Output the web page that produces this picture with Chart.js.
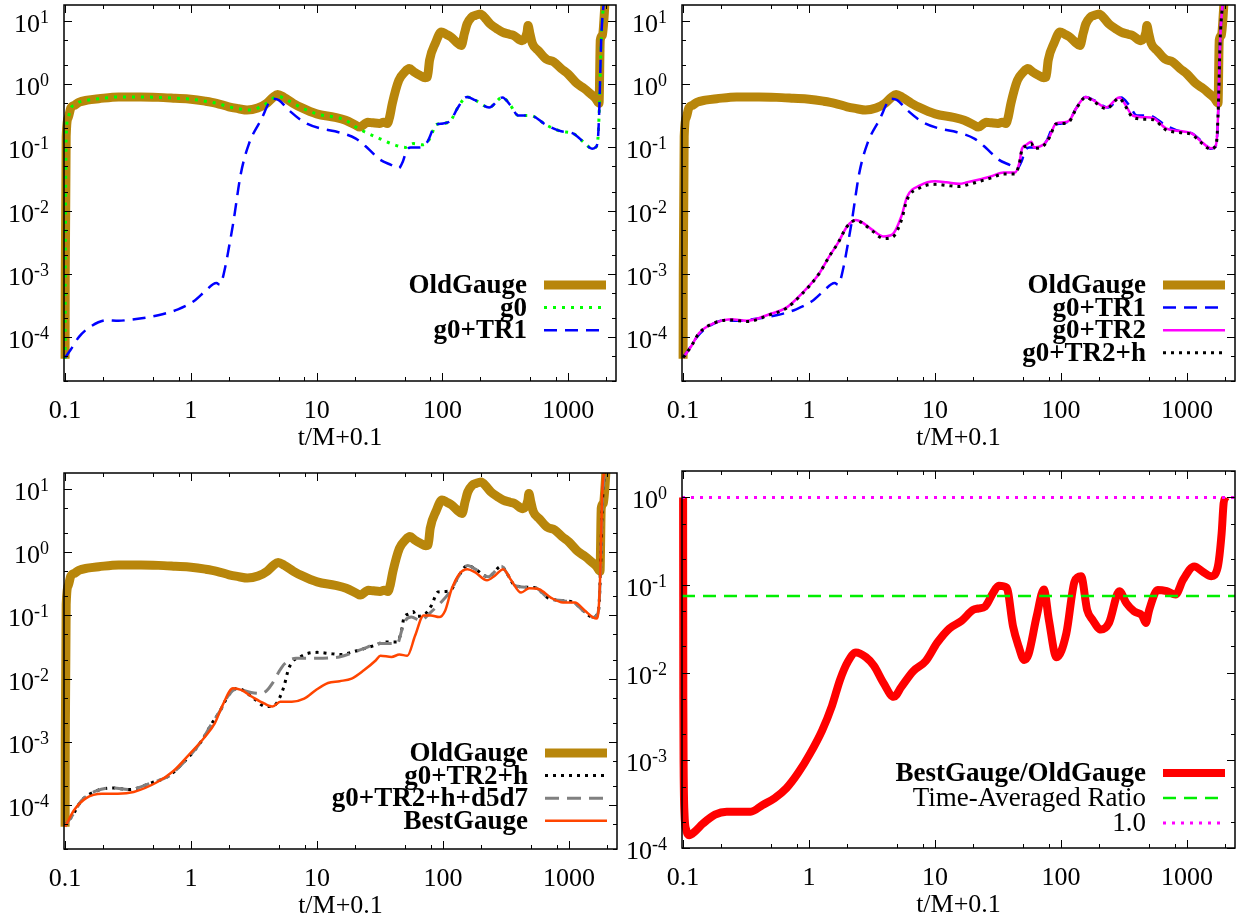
<!DOCTYPE html>
<html>
<head>
<meta charset="utf-8">
<script src="https://cdn.jsdelivr.net/npm/chart.js@4.4.0/dist/chart.umd.min.js"></script>
<style>
  html, body { margin: 0; padding: 0; background: #fff; }
  #wrap { position: relative; width: 1242px; height: 920px; }
  .panel { position: absolute; width: 621px; height: 460px; }
</style>
</head>
<body>
<div id="wrap">
  <div class="panel" style="left:0;top:0"><canvas id="c1" width="621" height="460"></canvas></div>
  <div class="panel" style="left:621px;top:0"><canvas id="c2" width="621" height="460"></canvas></div>
  <div class="panel" style="left:0;top:460px"><canvas id="c3" width="621" height="460"></canvas></div>
  <div class="panel" style="left:621px;top:460px"><canvas id="c4" width="621" height="460"></canvas></div>
</div>
<script>
// axis setup
const xRange = [0.098, 2400];
const yRangeMain = [2e-5, 18];
const yRangeRatio = [1e-4, 2];
const xTickValues = [0.1, 1, 10, 100, 1000];
const xTickLabels = ['0.1', '1', '10', '100', '1000'];
const yExpsMain = [1, 0, -1, -2, -3, -4];
const yExpsRatio = [0, -1, -2, -3, -4];
const xMinorDigits = [2, 5, 8];
const yMinorDigits = [2, 5];
const xTitle = 't/M+0.1';

// series, [t/M+0.1, value]
const oldGauge = [[0.1,4.5e-5],[0.1003,1e-3],[0.102,0.15],[0.106,0.3],[0.111,0.42],[0.12,0.47],[0.129,0.52],[0.15,0.56],[0.185,0.59],[0.266,0.63],[0.4,0.63],[0.55,0.62],[0.75,0.6],[1.0,0.58],[1.3,0.54],[1.6,0.5],[2.0,0.44],[2.4,0.41],[2.8,0.39],[3.4,0.42],[4.0,0.5],[4.5,0.62],[4.9,0.69],[5.5,0.62],[6.5,0.5],[7.5,0.43],[10,0.34],[14,0.3],[17,0.27],[20.5,0.225],[22,0.21],[25.5,0.25],[28,0.245],[31.6,0.24],[34,0.25],[36.5,0.24],[38,0.3],[40,0.5],[45,1.15],[50,1.55],[54.5,1.77],[60,1.55],[66,1.39],[73,1.27],[76,1.3],[79,2.4],[88,4.5],[98,6.7],[107,6.2],[117,5.6],[130,4.6],[141,4.1],[150,6.5],[157,9.0],[170,11.5],[182,12.3],[200,13],[220,11],[240,9],[270,7.6],[300,6.7],[340,6.2],[370,5.9],[430,4.9],[470,6.5],[480,8.5],[495,6.5],[520,4.4],[580,3.4],[670,2.5],[770,2.25],[880,1.77],[1000,1.45],[1180,1.02],[1350,0.85],[1500,0.71],[1650,0.6],[1760,0.5],[1800,5],[1870,6],[1990,30]];

const g0 = [[0.1,4.5e-5],[0.1003,1e-3],[0.102,0.15],[0.106,0.3],[0.111,0.42],[0.12,0.47],[0.129,0.52],[0.15,0.56],[0.185,0.59],[0.266,0.63],[0.4,0.63],[0.55,0.62],[0.75,0.6],[1.0,0.58],[1.3,0.54],[1.6,0.5],[2.0,0.44],[2.4,0.41],[2.8,0.39],[3.4,0.42],[4.0,0.5],[4.5,0.6],[4.9,0.65],[5.5,0.6],[6.5,0.5],[7.5,0.43],[10,0.34],[14,0.3],[17,0.27],[20.5,0.21],[24,0.177],[31.6,0.138],[42,0.109],[51,0.1],[58.5,0.115],[70,0.11],[81,0.148],[88,0.226],[101,0.24],[117,0.27],[131,0.41],[157,0.63],[182,0.56],[235,0.43],[300,0.62],[346,0.47],[400,0.32],[500,0.32],[670,0.226],[880,0.18],[1090,0.167],[1360,0.116],[1550,0.095],[1650,0.1],[1720,0.13],[1770,0.44],[1830,5],[1900,16],[1990,30]];

const g0TR1 = [[0.1,4.7e-5],[0.111,6.3e-5],[0.129,1.0e-4],[0.16,1.46e-4],[0.214,1.83e-4],[0.266,1.8e-4],[0.33,1.87e-4],[0.55,2.2e-4],[0.79,2.73e-4],[1.06,3.7e-4],[1.3,5.3e-4],[1.5,6.8e-4],[1.6,7.1e-4],[1.7,6.7e-4],[1.88,1.3e-3],[2.0,2.5e-3],[2.17,6.3e-3],[2.5,3.9e-2],[2.9,0.115],[3.6,0.27],[4.5,0.59],[5.0,0.56],[6.0,0.39],[8.0,0.25],[10.7,0.2],[14,0.18],[20.5,0.138],[25.5,0.097],[31.6,0.065],[39,0.053],[45,0.047],[48.5,0.06],[52,0.09],[56,0.1],[66,0.1],[76,0.123],[88,0.226],[101,0.24],[117,0.27],[131,0.41],[157,0.63],[182,0.56],[235,0.43],[300,0.62],[346,0.47],[400,0.32],[500,0.32],[670,0.226],[880,0.18],[1090,0.167],[1360,0.116],[1550,0.095],[1650,0.1],[1720,0.13],[1770,0.44],[1830,5],[1900,16],[1990,30]];

const g0TR2 = [[0.1,4.7e-5],[0.116,7.1e-5],[0.134,1.15e-4],[0.178,1.67e-4],[0.24,1.9e-4],[0.32,1.8e-4],[0.49,2.3e-4],[0.66,2.9e-4],[0.88,4.9e-4],[1.2,1.0e-3],[1.45,1.9e-3],[1.7,3.1e-3],[2.0,5.6e-3],[2.35,7.1e-3],[2.6,6.6e-3],[3.2,4.9e-3],[3.9,3.9e-3],[4.6,4.2e-3],[5.4,8.1e-3],[6.0,1.66e-2],[7.6,2.5e-2],[10,2.9e-2],[12.3,2.8e-2],[15.6,2.65e-2],[18,2.8e-2],[22.5,3.1e-2],[28,3.5e-2],[35,4.0e-2],[43,4.0e-2],[46.5,5.6e-2],[49,0.096],[53,0.11],[58,0.123],[61,0.1],[72,0.11],[81,0.148],[91,0.24],[105,0.25],[117,0.27],[131,0.41],[157,0.63],[180,0.56],[228,0.43],[290,0.62],[320,0.49],[370,0.32],[460,0.3],[540,0.29],[680,0.2],[910,0.18],[1090,0.167],[1300,0.123],[1550,0.097],[1650,0.1],[1720,0.13],[1770,0.44],[1830,5],[1900,16],[1990,30]];

const g0TR2h = [[0.1,4.7e-5],[0.116,7.1e-5],[0.134,1.15e-4],[0.178,1.67e-4],[0.24,1.85e-4],[0.32,1.75e-4],[0.49,2.25e-4],[0.66,2.85e-4],[0.88,4.8e-4],[1.2,1.0e-3],[1.45,1.9e-3],[1.7,3.1e-3],[2.0,5.6e-3],[2.35,7.0e-3],[2.6,6.5e-3],[3.2,4.7e-3],[3.9,3.6e-3],[4.6,3.8e-3],[5.4,7.0e-3],[6.0,1.5e-2],[7.6,2.3e-2],[10,2.6e-2],[12.3,2.5e-2],[15.6,2.4e-2],[18,2.55e-2],[22.5,2.9e-2],[28,3.3e-2],[35,3.8e-2],[43,3.8e-2],[46.5,5.4e-2],[49,0.093],[53,0.105],[58,0.115],[61,0.097],[72,0.105],[81,0.145],[91,0.235],[105,0.24],[117,0.26],[131,0.4],[157,0.62],[180,0.54],[228,0.41],[290,0.6],[320,0.47],[370,0.3],[460,0.28],[540,0.275],[680,0.19],[910,0.17],[1090,0.16],[1300,0.118],[1550,0.093],[1650,0.1],[1720,0.13],[1770,0.44],[1830,5],[1900,16],[1990,30]];

const g0TR2hd5d7 = [[0.1,4.7e-5],[0.116,7.1e-5],[0.134,1.15e-4],[0.178,1.67e-4],[0.24,1.85e-4],[0.32,1.75e-4],[0.49,2.25e-4],[0.66,2.85e-4],[0.88,4.8e-4],[1.2,1.0e-3],[1.45,1.9e-3],[1.7,3.1e-3],[2.0,5.6e-3],[2.35,7.0e-3],[2.6,6.5e-3],[3.0,6.0e-3],[3.6,5.8e-3],[4.0,6.5e-3],[4.4,8.3e-3],[5.0,1.3e-2],[5.5,1.7e-2],[6.8,2.1e-2],[9.8,2.1e-2],[15,2.2e-2],[22.5,2.9e-2],[31.6,3.6e-2],[43.5,3.6e-2],[46,5.0e-2],[48.6,7.4e-2],[56,9.4e-2],[66,0.083],[80,0.113],[96,0.16],[117,0.26],[131,0.4],[157,0.62],[180,0.54],[228,0.41],[290,0.6],[320,0.47],[370,0.3],[460,0.28],[540,0.275],[680,0.19],[910,0.17],[1090,0.16],[1300,0.118],[1550,0.093],[1650,0.1],[1720,0.13],[1770,0.44],[1830,5],[1900,16],[1990,30]];

const bestGauge = [[0.1,4.5e-5],[0.118,8.3e-5],[0.147,1.28e-4],[0.196,1.5e-4],[0.262,1.5e-4],[0.35,1.6e-4],[0.54,2.3e-4],[0.72,3.4e-4],[0.96,6.2e-4],[1.29,1.2e-3],[1.54,1.95e-3],[1.78,3.8e-3],[2.15,7.0e-3],[2.49,6.6e-3],[3.07,5.1e-3],[3.83,4.0e-3],[4.43,3.6e-3],[5.1,4.3e-3],[6.3,4.3e-3],[7.9,4.8e-3],[9.8,6.6e-3],[12.2,8.5e-3],[15.1,9.1e-3],[18.8,1.0e-2],[23.5,1.35e-2],[29.3,1.95e-2],[31.8,2.3e-2],[39,2.2e-2],[45,2.4e-2],[52,2.3e-2],[60,4.8e-2],[70,0.1],[80,0.1],[93,0.094],[104,0.12],[116,0.25],[134,0.45],[156,0.54],[180,0.48],[223,0.36],[259,0.43],[300,0.54],[347,0.36],[416,0.23],[482,0.27],[578,0.26],[720,0.19],[895,0.16],[1110,0.16],[1330,0.12],[1550,0.093],[1650,0.089],[1720,0.135],[1770,0.51],[1830,8.3],[1900,20]];

const ratio = [[0.1,1.0],[0.1004,5e-3],[0.101,8e-4],[0.1025,2.5e-4],[0.106,1.6e-4],[0.1115,1.4e-4],[0.1244,1.55e-4],[0.1438,1.9e-4],[0.179,2.4e-4],[0.222,2.6e-4],[0.276,2.6e-4],[0.344,2.6e-4],[0.428,3.1e-4],[0.532,3.7e-4],[0.66,4.8e-4],[0.82,7.2e-4],[1.02,1.2e-3],[1.27,2.2e-3],[1.52,4.2e-3],[1.76,8.3e-3],[2.04,1.35e-2],[2.35,1.7e-2],[2.83,1.5e-2],[3.27,1.2e-2],[3.9,7.6e-3],[4.7,5.3e-3],[5.4,6.9e-3],[6.7,1.04e-2],[8.4,1.35e-2],[10.4,2.2e-2],[13,3.2e-2],[16.2,3.9e-2],[20,5.2e-2],[22,5.4e-2],[25,5.7e-2],[28.8,8.1e-2],[32,9.8e-2],[37,9.3e-2],[41.5,3.4e-2],[46,2.0e-2],[51,1.4e-2],[55,1.6e-2],[64,4.4e-2],[73,8.9e-2],[80,4.0e-2],[92,1.5e-2],[110,2.8e-2],[128,0.11],[144,0.126],[161,5.2e-2],[178,4.0e-2],[207,3.1e-2],[240,3.7e-2],[290,8.5e-2],[330,6.2e-2],[380,5.0e-2],[440,4.5e-2],[470,3.7e-2],[500,5.2e-2],[585,8.8e-2],[690,8.5e-2],[810,7.8e-2],[930,0.115],[1140,0.163],[1350,0.14],[1560,0.126],[1750,0.16],[1880,0.39],[1950,0.86],[2020,1.0]];

const avgRatio = 0.075;
const unity = 1.0;

const FONT = '"Liberation Serif", "Times New Roman", serif';
const FS = 26;      // tick labels and axis title
const FS_KEY = 27;  // key text
const FS_EXP = 18;  // exponents

const gpPlugin = {
  id: 'gp',
  afterDatasetsDraw(chart, args, o) {
    const ctx = chart.ctx, a = chart.chartArea;
    const xs = chart.scales.x, ys = chart.scales.y;
    ctx.save();
    ctx.strokeStyle = '#000';
    ctx.lineWidth = 1;
    ctx.beginPath();
    for (let e = -5; e <= 4; e++) {
      [1].concat(xMinorDigits).forEach(d => {
        const v = d * Math.pow(10, e);
        if (v < xs.min || v > xs.max) return;
        const px = Math.round(xs.getPixelForValue(v)) + 0.5;
        const len = d === 1 ? 8 : 4;
        ctx.moveTo(px, a.bottom); ctx.lineTo(px, a.bottom - len);
        ctx.moveTo(px, a.top); ctx.lineTo(px, a.top + len);
      });
      [1].concat(yMinorDigits).forEach(d => {
        const v = d * Math.pow(10, e);
        if (v < ys.min || v > ys.max) return;
        const py = Math.round(ys.getPixelForValue(v)) + 0.5;
        const len = d === 1 ? 8 : 4;
        ctx.moveTo(a.left, py); ctx.lineTo(a.left + len, py);
        ctx.moveTo(a.right, py); ctx.lineTo(a.right - len, py);
      });
    }
    ctx.stroke();
    ctx.lineWidth = 1.5;
    ctx.strokeRect(a.left, a.top, a.right - a.left, a.bottom - a.top);

    // tick labels
    ctx.fillStyle = '#000';
    ctx.font = FS + 'px ' + FONT;
    ctx.textAlign = 'center';
    ctx.textBaseline = 'alphabetic';
    xTickValues.forEach((v, i) => {
      ctx.fillText(xTickLabels[i], xs.getPixelForValue(v), a.bottom + 37);
    });
    ctx.fillText(xTitle, (a.left + a.right) / 2, a.bottom + 64);
    ctx.textAlign = 'right';
    o.yExps.forEach(e => {
      const py = ys.getPixelForValue(Math.pow(10, e));
      const ex = String(e);
      ctx.font = FS_EXP + 'px ' + FONT;
      const w = ctx.measureText(ex).width;
      ctx.fillText(ex, a.left - 15, py + 2);
      ctx.font = FS + 'px ' + FONT;
      ctx.fillText('10', a.left - 15 - w, py + 11);
    });

    // key
    o.legend.forEach((L, i) => {
      const ds = chart.data.datasets[L.ds];
      const yy = o.legendY + i * o.legendGap;
      ctx.font = (L.bold ? 'bold ' : '') + FS_KEY + 'px ' + FONT;
      ctx.fillStyle = '#000';
      ctx.textAlign = 'right';
      ctx.textBaseline = 'middle';
      ctx.fillText(ds.label, a.right - 89, yy + 1);
      ctx.strokeStyle = ds.borderColor;
      ctx.lineWidth = ds.borderWidth;
      ctx.setLineDash(ds.borderDash || []);
      ctx.beginPath();
      ctx.moveTo(a.right - 72, yy);
      ctx.lineTo(a.right - 10, yy);
      ctx.stroke();
      ctx.setLineDash([]);
    });
    ctx.restore();
  }
};

function line(label, pts, color, width, dash) {
  return { label: label, pts: pts, color: color, width: width, dash: dash || [] };
}

function makePanel(id, box, yRange, yExps, series, legend, legendY, legendGap) {
  const canvas = document.getElementById(id);
  const W = canvas.width, H = canvas.height;
  return new Chart(canvas, {
    type: 'line',
    data: {
      datasets: series.map((s, i) => ({
        label: s.label,
        data: s.pts.map(p => ({ x: p[0], y: p[1] })),
        borderColor: s.color,
        backgroundColor: s.color,
        borderWidth: s.width,
        borderDash: s.dash,
        pointRadius: 0,
        fill: false,
        cubicInterpolationMode: 'monotone',
        order: series.length - i,
        clip: { left: 8, top: 0, right: 0, bottom: 8 }
      }))
    },
    options: {
      responsive: false,
      animation: false,
      events: [],
      layout: { padding: { top: box.top, right: W - box.right, left: 0, bottom: 0 } },
      plugins: {
        legend: { display: false },
        tooltip: { enabled: false },
        gp: { yExps: yExps, legend: legend, legendY: legendY, legendGap: legendGap }
      },
      scales: {
        x: {
          type: 'logarithmic', min: xRange[0], max: xRange[1],
          ticks: { display: false }, grid: { display: false }, border: { display: false },
          afterFit: s => { s.height = H - box.bottom; }
        },
        y: {
          type: 'logarithmic', min: yRange[0], max: yRange[1],
          ticks: { display: false }, grid: { display: false }, border: { display: false },
          afterFit: s => { s.width = box.left; }
        }
      }
    },
    plugins: [gpPlugin]
  });
}

const OLD = '#b8860b';
const flat = v => [[xRange[0], v], [xRange[1], v]];

makePanel('c1', { left: 64, right: 616, top: 5, bottom: 381 }, yRangeMain, yExpsMain, [
  line('OldGauge', oldGauge, OLD, 9),
  line('g0', g0, '#00ff00', 3, [3, 6]),
  line('g0+TR1', g0TR1, '#0000ff', 2.5, [13, 8])
], [{ ds: 0, bold: true }, { ds: 1, bold: true }, { ds: 2, bold: true }], 285, 22.6);

makePanel('c2', { left: 61, right: 614, top: 5, bottom: 381 }, yRangeMain, yExpsMain, [
  line('OldGauge', oldGauge, OLD, 9),
  line('g0+TR1', g0TR1, '#0000ff', 2.5, [13, 8]),
  line('g0+TR2', g0TR2, '#ff00ff', 2.5),
  line('g0+TR2+h', g0TR2h, '#000000', 3, [3, 5])
], [{ ds: 0, bold: true }, { ds: 1, bold: true }, { ds: 2, bold: true }, { ds: 3, bold: true }], 285, 22.6);

makePanel('c3', { left: 64, right: 617, top: 13, bottom: 389 }, yRangeMain, yExpsMain, [
  line('OldGauge', oldGauge, OLD, 9),
  line('g0+TR2+h', g0TR2h, '#000000', 3, [3, 5]),
  line('g0+TR2+h+d5d7', g0TR2hd5d7, '#808080', 3, [14, 8]),
  line('BestGauge', bestGauge, '#ff4500', 2.5)
], [{ ds: 0, bold: true }, { ds: 1, bold: true }, { ds: 2, bold: true }, { ds: 3, bold: true }], 293, 22.6);

makePanel('c4', { left: 61, right: 614, top: 11, bottom: 388 }, yRangeRatio, yExpsRatio, [
  line('BestGauge/OldGauge', ratio, '#ff0000', 8),
  line('Time-Averaged Ratio', flat(avgRatio), '#00ee00', 2.5, [13, 8]),
  line('1.0', flat(unity), '#ff00ff', 3, [3, 6])
], [{ ds: 0, bold: true }, { ds: 1, bold: false }, { ds: 2, bold: false }], 313, 25);
</script>
</body>
</html>
